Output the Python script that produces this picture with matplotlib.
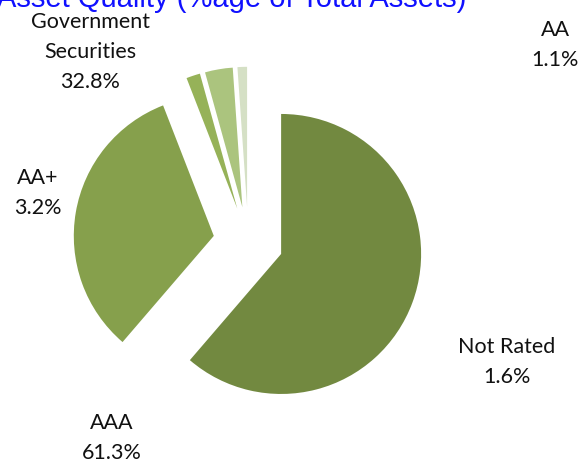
import matplotlib
matplotlib.use("Agg")
import matplotlib.pyplot as plt

# Data
categories = ["AAA", "Government Securities", "Not Rated", "AA+", "AA"]
values = [61.3, 32.8, 1.6, 3.2, 1.1]
colors = ["#728940", "#86A04C", "#96B258", "#ABC47E", "#D5E0C5"]
title = "Asset Quality (%age of Total Assets)"

# label blocks (text as shown in the reference)
label_texts = ["Government\nSecurities\n32.8%", "AA\n1.1%", "AA+\n3.2%", "Not Rated\n1.6%", "AAA\n61.3%"]
label_pos = [(90, 52), (555, 45), (38, 193), (507, 362), (112, 438)]  # pixel coords from top-left

W, H = 585, 462
fig = plt.figure(figsize=(W / 100, H / 100), dpi=100)
ax = fig.add_axes([0, 0, 1, 1])
ax.set_xlim(0, W)
ax.set_ylim(0, H)
ax.set_aspect("equal")
ax.axis("off")

R = 140
ax.pie(values, colors=colors, startangle=90, counterclock=False,
       radius=R, center=(248.3, H - 241.8), explode=[0.25 * R] * len(values),
       wedgeprops=dict(linewidth=0))
ax.set_xlim(0, W)
ax.set_ylim(0, H)

for txt, (x, y) in zip(label_texts, label_pos):
    ax.text(x, H - y, txt, ha="center", va="center", fontsize=15.5,
            family=["Lato", "DejaVu Sans"], color="#111111", linespacing=1.62)

fig.text(-0.005, 1 - 7 / H, title, ha="left", va="baseline", fontsize=21,
         color="#1010FF", family=["Liberation Sans", "DejaVu Sans"])

fig.savefig("out.png", dpi=100, facecolor="white")
